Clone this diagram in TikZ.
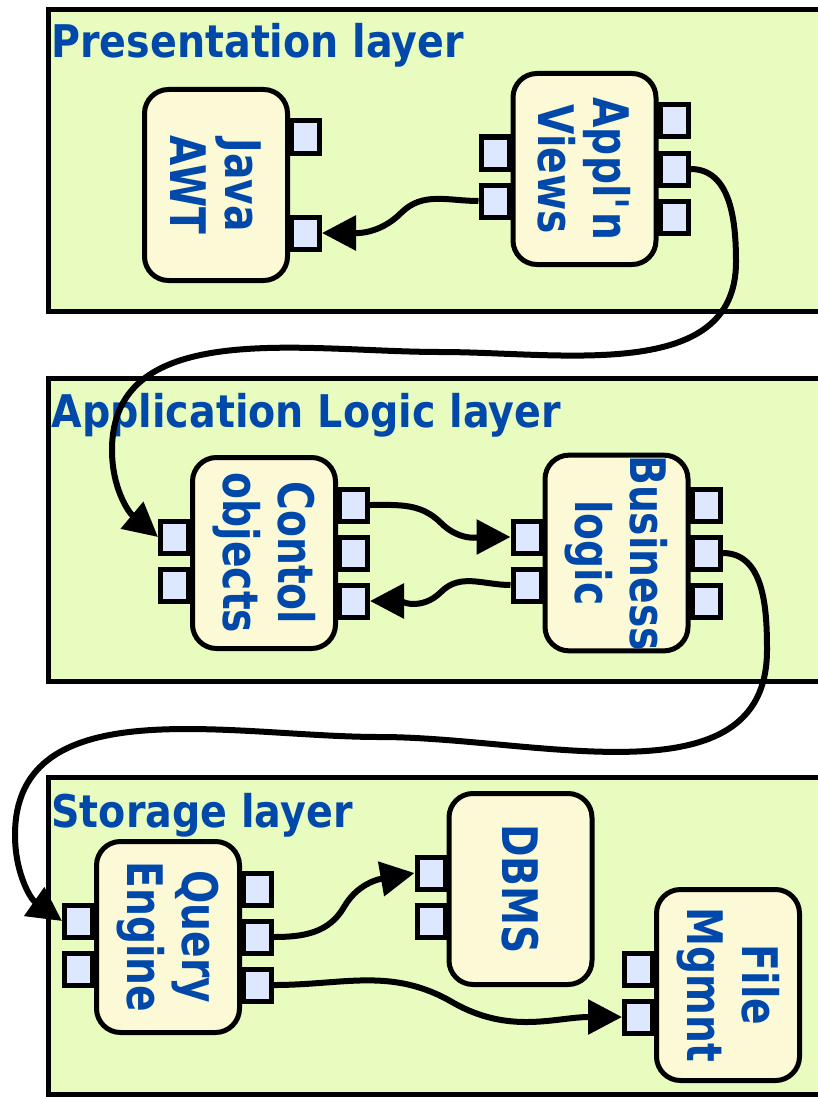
\documentclass[tikz,border=0pt]{standalone}
\usepackage{fontspec}
\usetikzlibrary{arrows.meta}
\newfontfamily\layerfont[FakeStretch=0.88]{DejaVu Sans}
\newfontfamily\compfont[FakeStretch=0.8]{DejaVu Sans}
\definecolor{layergreen}{RGB}{232,252,192}
\definecolor{compyellow}{RGB}{251,249,214}
\definecolor{portblue}{RGB}{221,232,255}
\definecolor{textblue}{RGB}{0,72,170}
\tikzset{
  layerbox/.style={draw, line width=2.5pt, fill=layergreen},
  layertitle/.style={anchor=base west, inner sep=0pt, text=textblue,
    font=\layerfont\bfseries\fontsize{22.5}{27}\selectfont},
  comp/.style={draw, line width=2.5pt, fill=compyellow, rounded corners=12pt,
    rotate=-90, minimum width=95.5pt, minimum height=71.5pt, inner sep=0pt,
    align=center, text=textblue,
    font=\compfont\bfseries\fontsize{24.5}{27.5}\selectfont},
  port/.style={draw, line width=2.5pt, fill=portblue, minimum width=14pt,
    minimum height=16pt, inner sep=0pt},
  conn/.style={line width=3pt, -{Triangle[length=17pt,width=17pt]}},
}
\begin{document}
\begin{tikzpicture}[x=0.5pt,y=-0.5pt]
  \useasboundingbox (0,0) rectangle (818,1097);
  \clip (0,0) rectangle (818,1097);
  % layers
  \draw[layerbox] (48,9.5) rectangle (850,311.5);
  \draw[layerbox] (48,378.5) rectangle (850,681);
  \draw[layerbox] (48,777.5) rectangle (850,1094);
  \node[layertitle] (pres) at (51,58) {Presentation layer};
  \node[layertitle] (logic) at (51,427) {Application Logic layer};
  \node[layertitle] (store) at (51,827) {Storage layer};
  % components
  \node[comp] (awt) at (216,185) {Java\\AWT};
  \node[comp] (views) at (584.5,169) {Appl\textquotesingle n\\Views};
  \node[comp] (ctrl) at (264,553) {Contol\\objects};
  \node[comp] (biz) at (616.5,553) {Business\\logic};
  \node[comp] (qe) at (168,937) {Query\\Engine};
  \node[comp] (dbms) at (520.5,889) {DBMS};
  \node[comp] (fm) at (728,985) {File\\Mgmnt};
  % ports
  \foreach \y [count=\i] in {137,233} \node[port] (awt-r\i) at (305.5,\y) {};
  \foreach \y [count=\i] in {153,201} \node[port] (views-l\i) at (495,\y) {};
  \foreach \y [count=\i] in {121,169,217} \node[port] (views-r\i) at (674,\y) {};
  \foreach \y [count=\i] in {537,585} \node[port] (ctrl-l\i) at (174.5,\y) {};
  \foreach \y [count=\i] in {505,553,601} \node[port] (ctrl-r\i) at (353.5,\y) {};
  \foreach \y [count=\i] in {537,585} \node[port] (biz-l\i) at (527,\y) {};
  \foreach \y [count=\i] in {505,553,601} \node[port] (biz-r\i) at (706,\y) {};
  \foreach \y [count=\i] in {921,969} \node[port] (qe-l\i) at (78.5,\y) {};
  \foreach \y [count=\i] in {889,937,985} \node[port] (qe-r\i) at (257.5,\y) {};
  \foreach \y [count=\i] in {873,921} \node[port] (dbms-l\i) at (431,\y) {};
  \foreach \y [count=\i] in {969,1017} \node[port] (fm-l\i) at (638.5,\y) {};
  % bends
  \coordinate (k1) at (401,213);
  \coordinate (k2) at (441,523);
  \coordinate (k3) at (441,592);
  \coordinate (k4) at (344,907);
  \coordinate (k5) at (452,1002);
  \coordinate (w1) at (736,262);
  \coordinate (w2) at (440,352);
  \coordinate (w3) at (112,450);
  \coordinate (w4) at (767,650);
  \coordinate (w5) at (380,737);
  \coordinate (w6) at (15,835);
  % connectors
  \draw[conn] (views-l2.west) to[out=180,in=45] (k1) to[out=-135,in=0] (awt-r2.east);
  \draw[conn] (views-r2.east) to[out=0,in=90] (w1) to[out=-90,in=0] (w2)
    to[out=180,in=90] (w3) to[out=-90,in=140] (ctrl-l1.west);
  \draw[conn] (ctrl-r1.east) to[out=0,in=135] (k2) to[out=-45,in=180] (biz-l1.west);
  \draw[conn] (biz-l2.west) to[out=180,in=45] (k3) to[out=-135,in=0] (ctrl-r3.east);
  \draw[conn] (biz-r2.east) to[out=0,in=90] (w4) to[out=-90,in=0] (w5)
    to[out=180,in=90] (w6) to[out=-90,in=145] (qe-l1.west);
  \draw[conn] (qe-r2.east) to[out=0,in=-120] (k4) to[out=60,in=190] (dbms-l1.west);
  \draw[conn] (qe-r3.east) to[out=0,in=150] (k5) to[out=-30,in=180] (fm-l2.west);
\end{tikzpicture}
\end{document}
